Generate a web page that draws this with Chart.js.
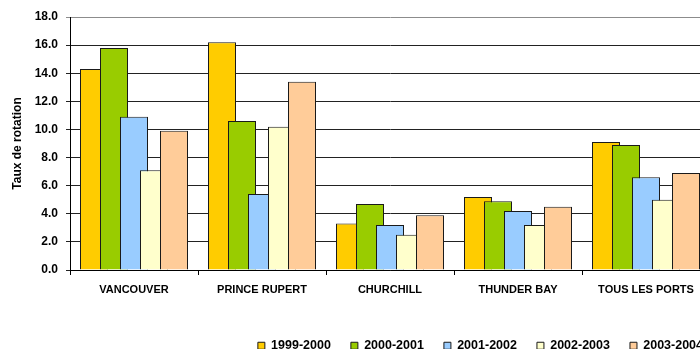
<!DOCTYPE html>
<html lang="fr">
<head>
<meta charset="utf-8">
<title>Taux de rotation par port</title>
<script src="https://cdn.jsdelivr.net/npm/chart.js@4/dist/chart.umd.min.js"></script>
<style>
  html, body { margin: 0; padding: 0; background: #fff; overflow: hidden; }
  #wrap { position: relative; width: 720px; height: 349px; }
</style>
</head>
<body>
<div id="wrap"><canvas id="chart"></canvas></div>
<script>
// Ports and seasons
const ports = ['VANCOUVER', 'PRINCE RUPERT', 'CHURCHILL', 'THUNDER BAY', 'TOUS LES PORTS'];
const seasons = ['1999-2000', '2000-2001', '2001-2002', '2002-2003', '2003-2004'];

// Turnover rate per port, one array per season
const rate1999 = [14.3, 16.2, 3.3, 5.2, 9.1];
const rate2000 = [15.8, 10.6, 4.7, 4.9, 8.9];
const rate2001 = [10.9, 5.4, 3.2, 4.2, 6.6];
const rate2002 = [7.1, 10.2, 2.5, 3.2, 5.0];
const rate2003 = [9.9, 13.4, 3.9, 4.5, 6.9];

const yTicks = [0, 2, 4, 6, 8, 10, 12, 14, 16, 18];

const seriesValues = [rate1999, rate2000, rate2001, rate2002, rate2003];
const seriesColors = ['#FFCC00', '#99CC00', '#99CCFF', '#FFFFCC', '#FFCC99'];

const FONT = '"Liberation Sans", Arial, Helvetica, sans-serif';

// Later seasons are painted over earlier ones so overlapping bars stack left to right
const drawInSeriesOrder = {
  id: 'drawInSeriesOrder',
  beforeDatasetsDraw(chart) {
    chart.data.datasets.forEach((ds, i) => {
      const meta = chart.getDatasetMeta(i);
      if (chart.isDatasetVisible(i)) meta.controller.draw();
    });
    return false;
  }
};

// Nudge the legend row into place
const legendOffset = {
  id: 'legendOffset',
  afterLayout(chart) {
    const lg = chart.legend;
    if (!lg) return;
    const dx = 13, dy = 13;
    lg.left += dx; lg.right += dx;
    lg.top += dy; lg.bottom += dy;
  }
};

new Chart(document.getElementById('chart'), {
  type: 'bar',
  data: {
    labels: ports,
    datasets: seasons.map((s, i) => ({
      label: s,
      data: seriesValues[i],
      backgroundColor: seriesColors[i],
      borderColor: '#1a1a1a',
      borderWidth: 1,
      categoryPercentage: 0.78125,
      barPercentage: 1.4
    }))
  },
  options: {
    responsive: true,
    maintainAspectRatio: false,
    animation: false,
    layout: { padding: { top: 17, right: 10, left: 0, bottom: 0 } },
    plugins: {
      tooltip: { enabled: false },
      legend: {
        position: 'bottom',
        align: 'end',
        labels: {
          boxWidth: 7,
          boxHeight: 7,
          padding: 20,
          color: '#000',
          font: { family: FONT, size: 12.5, weight: 'bold' }
        }
      }
    },
    scales: {
      x: {
        grid: {
          offset: true,
          drawOnChartArea: false,
          tickLength: 5,
          color: '#000'
        },
        border: { color: '#000', width: 1 },
        ticks: {
          color: '#000',
          padding: 8,
          maxRotation: 0,
          autoSkip: false,
          font: { family: FONT, size: 11, weight: 'bold' }
        },
        afterFit(scale) { scale.height = 36.5; }
      },
      y: {
        min: 0,
        max: 18,
        afterBuildTicks(scale) { scale.ticks = yTicks.map(v => ({ value: v })); },
        grid: {
          color: ctx => (ctx.tick && ctx.tick.value === 18 ? '#8c8c8c' : '#222'),
          lineWidth: 1,
          tickLength: 4
        },
        border: { color: '#000', width: 1 },
        ticks: {
          color: '#000',
          padding: 8,
          callback: v => Number(v).toFixed(1),
          font: { family: FONT, size: 12, weight: 'bold' }
        },
        title: {
          display: true,
          text: 'Taux de rotation',
          color: '#000',
          padding: { top: 10, bottom: 0 },
          font: { family: FONT, size: 12, weight: 'bold' }
        },
        afterFit(scale) { scale.width = 70; }
      }
    }
  },
  plugins: [drawInSeriesOrder, legendOffset]
});
</script>
</body>
</html>
